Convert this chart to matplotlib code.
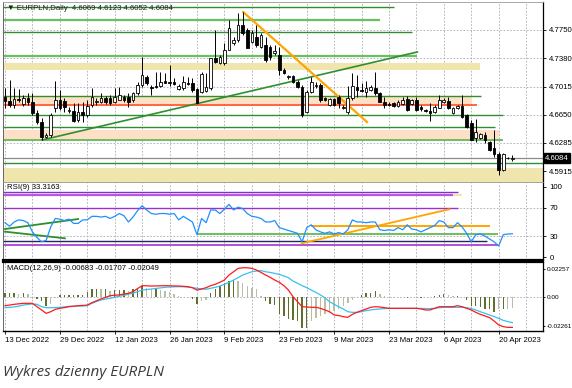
import numpy as np
import matplotlib
matplotlib.use('Agg')
import matplotlib.pyplot as plt
import matplotlib.transforms as mtransforms

# ---------------- DATA ----------------
opens = [4.6879,4.6827,4.6775,4.6853,4.6788,4.6866,4.6814,4.6671,4.6554,4.6359,
         4.6385,4.6736,4.6840,4.6827,4.6697,4.6697,4.6580,4.6684,4.6645,4.6775,
         4.6814,4.6814,4.6866,4.6866,4.6814,4.6840,4.6879,4.6879,4.6840,4.6931,
         4.7035,4.7139,4.7009,4.7022,4.7022,4.7087,4.7074,4.7074,4.6983,4.6996,
         4.7061,4.7061,4.6983,4.6944,4.6957,4.6996,4.7386,4.7321,4.7321,4.7490,
         4.7581,4.7620,4.7815,4.7750,4.7594,4.7659,4.7529,4.7555,4.7529,4.7451,
         4.7425,4.7230,4.7139,4.7152,4.7074,4.7009,4.6684,4.6944,4.7022,4.7035,
         4.6866,4.6775,4.6853,4.6879,4.6736,4.6684,4.6866,4.7009,4.6970,4.6944,
         4.6970,4.6996,4.6931,4.6814,4.6788,4.6801,4.6762,4.6788,4.6853,4.6788,
         4.6840,4.6749,4.6710,4.6697,4.6684,4.6736,4.6814,4.6827,4.6671,4.6736,
         4.6762,4.6645,4.6541,4.6346,4.6346,4.6385,4.6294,4.6216,4.6138,4.5930,
         4.6086,4.6069]
highs = [4.6996,4.7100,4.6996,4.6983,4.6905,4.6931,4.6931,4.6710,4.6606,4.6411,
         4.6671,4.7087,4.6970,4.6866,4.6749,4.6801,4.6801,4.6814,4.6840,4.6996,
         4.6866,4.6931,4.6892,4.6905,4.6996,4.7009,4.6905,4.6931,4.6944,4.7074,
         4.7399,4.7165,4.7035,4.7204,4.7204,4.7191,4.7295,4.7126,4.7048,4.7152,
         4.7139,4.7126,4.6996,4.7204,4.7191,4.7386,4.7750,4.7425,4.7581,4.7880,
         4.7659,4.7971,4.7984,4.7776,4.7750,4.7815,4.7711,4.7659,4.7555,4.7555,
         4.7529,4.7256,4.7165,4.7165,4.7100,4.7035,4.6970,4.7139,4.7074,4.7061,
         4.6879,4.6866,4.6866,4.6905,4.6775,4.7022,4.7191,4.7165,4.7061,4.7087,
         4.7035,4.7204,4.6944,4.6879,4.6814,4.6814,4.6840,4.6879,4.6892,4.6853,
         4.6879,4.6775,4.6723,4.6801,4.6775,4.6905,4.6866,4.6879,4.6749,4.6775,
         4.6905,4.6658,4.6580,4.6593,4.6411,4.6424,4.6307,4.6450,4.6164,4.6151,
         4.6099,4.6123]
lows = [4.6736,4.6749,4.6736,4.6814,4.6762,4.6775,4.6645,4.6528,4.6320,4.6346,
        4.6359,4.6684,4.6710,4.6684,4.6671,4.6554,4.6554,4.6554,4.6619,4.6749,
        4.6775,4.6801,4.6788,4.6775,4.6801,4.6840,4.6814,4.6749,4.6814,4.6905,
        4.7009,4.7035,4.6905,4.6996,4.7009,4.7061,4.7022,4.7035,4.6970,4.6970,
        4.7035,4.6944,4.6801,4.6931,4.6944,4.6970,4.7321,4.7308,4.7295,4.7490,
        4.7555,4.7594,4.7685,4.7516,4.7581,4.7529,4.7516,4.7334,4.7360,4.7425,
        4.7165,4.7178,4.7113,4.7061,4.6996,4.6619,4.6671,4.6931,4.6996,4.6814,
        4.6827,4.6762,4.6762,4.6736,4.6723,4.6658,4.6840,4.6879,4.6944,4.6879,
        4.6957,4.6905,4.6814,4.6736,4.6762,4.6749,4.6749,4.6775,4.6697,4.6775,
        4.6697,4.6697,4.6684,4.6567,4.6671,4.6736,4.6801,4.6723,4.6658,4.6723,
        4.6606,4.6476,4.6320,4.6294,4.6333,4.6281,4.6177,4.6099,4.5865,4.5917,
        4.6073,4.6052]
closes = [4.6827,4.6775,4.6853,4.6840,4.6866,4.6814,4.6671,4.6554,4.6359,4.6385,
          4.6645,4.6840,4.6736,4.6749,4.6710,4.6567,4.6684,4.6645,4.6762,4.6879,
          4.6827,4.6866,4.6814,4.6801,4.6879,4.6905,4.6840,4.6814,4.6931,4.7035,
          4.7165,4.7061,4.6996,4.7009,4.7074,4.7061,4.7061,4.7048,4.7022,4.7074,
          4.7048,4.6970,4.6801,4.7178,4.7009,4.7386,4.7334,4.7399,4.7490,4.7776,
          4.7620,4.7815,4.7711,4.7516,4.7711,4.7555,4.7685,4.7360,4.7399,4.7477,
          4.7230,4.7191,4.7152,4.7074,4.7009,4.6645,4.6944,4.7074,4.7035,4.6840,
          4.6840,4.6853,4.6775,4.6801,4.6749,4.6866,4.7022,4.6970,4.6957,4.6996,
          4.7009,4.6931,4.6814,4.6775,4.6775,4.6762,4.6814,4.6840,4.6710,4.6840,
          4.6710,4.6723,4.6697,4.6671,4.6749,4.6840,4.6840,4.6736,4.6736,4.6762,
          4.6619,4.6489,4.6320,4.6424,4.6398,4.6320,4.6190,4.6138,4.5930,4.6138,
          4.6090,4.6084]

rsi = [49,44,50,53,52,49,36,28,22,24,43,55,54,52,54,48,48,53,53,58,
       58,57,58,55,58,62,59,50,57,66,73,67,62,61,62,62,61,62,53,58,
       54,50,32,55,49,67,67,62,68,75,67,71,69,62,58,57,55,50,50,52,
       42,40,38,36,34,22,42,46,39,36,34,36,33,35,33,39,53,50,50,49,
       50,50,39,38,39,38,42,39,46,40,39,36,39,42,45,52,50,42,42,49,
       43,34,22,32,33,30,26,22,16,32,33,33.3163]

# MACD values in thousandths
macd_red_milli = [-6.7,-6.2,-5.6,-5.2,-4.8,-4.8,-4.8,-7.5,-10.1,-12.8,-11.5,-9.6,-8.8,-8.2,-7.5,-7.1,-6.7,-6.5,-6.2,-4.3,
                  -2.8,-1.3,0.0,1.3,1.6,1.9,2.6,3.2,4.5,7.0,9.3,9.2,9.0,9.1,9.2,9.3,9.2,9.1,9.0,8.8,
                  8.5,7.7,5.8,6.6,7.7,9.3,10.4,12.0,13.8,17.8,20.4,23.1,23.6,23.6,23.1,21.8,19.9,17.8,16.0,13.8,
                  12.0,9.3,5.8,0.5,-3.5,-7.5,-7.7,-8.0,-8.0,-8.8,-10.1,-11.5,-14.1,-14.6,-15.4,-16.0,-13.6,-12.0,-10.6,-9.3,
                  -8.0,-7.5,-7.7,-8.3,-8.8,-8.8,-8.8,-8.8,-8.8,-8.8,-8.8,-9.3,-10.1,-10.1,-8.8,-7.5,-7.5,-7.5,-7.5,-6.7,
                  -7.5,-8.8,-10.1,-12.0,-13.6,-14.9,-16.2,-18.9,-22.1,-23.4,-24.0,-24.0]
macd_cyan_milli = [-8.3,-8.0,-7.7,-7.0,-6.2,-5.7,-5.3,-5.6,-7.5,-8.3,-8.3,-8.2,-8.0,-7.6,-7.2,-7.1,-7.0,-6.9,-6.7,-4.8,
                   -3.4,-2.1,-1.4,-0.8,0.0,0.8,1.6,2.4,3.4,4.5,5.8,6.2,6.6,7.1,7.5,8.0,8.2,8.4,8.5,8.4,
                   8.2,7.7,7.2,6.8,6.4,7.2,8.0,9.0,10.4,12.0,13.8,15.7,17.8,19.1,20.4,21.0,21.3,20.4,19.9,19.1,
                   18.3,17.0,15.7,13.0,11.2,9.3,7.7,5.8,4.0,1.9,-0.3,-3.5,-5.6,-7.5,-9.3,-11.5,-12.0,-12.0,-11.5,-10.6,
                   -10.1,-9.6,-9.3,-9.0,-8.8,-8.8,-8.8,-8.8,-8.8,-8.8,-8.8,-8.9,-9.0,-9.0,-8.8,-8.3,-8.0,-8.0,-8.0,-8.0,
                   -8.0,-8.3,-9.0,-10.1,-11.5,-12.8,-14.1,-15.4,-16.8,-18.4,-19.4,-20.2]
macd_hist_milli = [3.2,3.2,3.2,2.4,3.7,2.4,-1.6,-1.6,-2.9,-6.9,-5.6,-0.3,1.6,1.6,1.6,1.6,1.6,1.6,4.3,6.4,
                   6.9,6.4,6.4,5.1,5.9,5.9,5.9,5.1,6.4,6.4,9.0,7.7,6.4,6.4,5.9,5.1,4.3,2.4,1.1,0.5,
                   0.5,-1.6,-5.6,-2.9,-2.1,3.7,6.4,9.0,11.7,13.0,13.8,13.0,11.7,9.0,7.7,6.4,1.1,-2.9,-5.6,-6.4,
                   -13.3,-14.9,-17.6,-18.1,-18.9,-24.2,-24.2,-18.9,-16.2,-14.9,-13.6,-12.2,-10.9,-9.6,-6.9,-4.3,-2.1,0.0,1.6,3.2,
                   3.7,5.1,2.4,1.1,0.5,-0.3,0.3,0.2,-0.2,0.3,0.2,-0.3,0.5,0.5,1.1,1.6,2.4,1.6,1.1,1.1,
                   0.5,-2.1,-6.9,-6.9,-7.5,-9.0,-9.6,-11.7,-9.6,-9.6,-9.0,-8.2]

date_labels = ["13 Dec 2022", "29 Dec 2022", "12 Jan 2023", "26 Jan 2023", "9 Feb 2023",
               "23 Feb 2023", "9 Mar 2023", "23 Mar 2023", "6 Apr 2023", "20 Apr 2023"]
date_label_bars = [0, 12, 24, 36, 48, 60, 72, 84, 96, 108]
price_ticks = [4.7750, 4.7380, 4.7015, 4.6650, 4.6285, 4.5915]
rsi_ticks = [100, 70, 30, 0]
macd_ticks = [0.02257, 0.0, -0.02261]
macd_tick_labels = ['0.02257', '0.00', '-0.02261']

# horizontal levels on price chart: (price, end bar, colour, width)
price_levels = [
    (4.8049, 85.1, '#2f8f2f', 1.0),
    (4.7880, 82.0, '#6cbf5f', 1.6),
    (4.7724, 89.0, '#2f8f2f', 1.0),
    (4.7412, 90.2, '#6cbf5f', 1.6),
    (4.6892, 104.2, '#2f8f2f', 1.0),
    (4.6775, 103.3, '#ff4b1f', 1.2),
    (4.6645, 109.0, '#2f8f2f', 1.0),
    (4.6489, 107.2, '#2f8f2f', 1.0),
    (4.6320, 109.0, '#6cbf5f', 1.4),
    (4.6021, 118.0, '#2f8f2f', 1.0),
]
price_zones = [  # (low, high, end bar, colour)
    (4.7225, 4.7318, 104.0, '#efe5ad'),
    (4.6786, 4.6894, 102.2, '#fde0c6'),
    (4.6330, 4.6450, 108.1, '#fde0c6'),
    (4.5760, 4.5958, 118.0, '#efe5ad'),
]
price_trend_x = [[8.1, 90.2], [52.1, 79.2]]
price_trend_y = [[4.6320, 4.7464], [4.7984, 4.6554]]
price_trend_c = ['#2f8f2f', '#ffa500']

rsi_levels = [  # (value, start bar, end bar, colour, width)
    (88, -1, 100.0, '#efe5ad', 1.6),
    (93, -1, 99.1, '#8a2be2', 1.0),
    (88, -1, 98.0, '#b45cd6', 1.6),
    (70, -1, 99.1, '#9932cc', 1.0),
    (23, -1, 105.4, '#26265e', 1.0),
    (17, -1, 107.9, '#b04fd8', 1.4),
    (32.6, 42.0, 107.9, '#6cbf5f', 1.4),
    (44.8, 66.9, 106.1, '#ffa500', 1.4),
]
rsi_trend_x = [[64.9, 97.2], [0, 16], [0, 13.1]]
rsi_trend_y = [[19.8, 68.0], [40.1, 54.2], [36.3, 26.9]]
rsi_trend_c = ['#ffa500', '#2f8f2f', '#2f8f2f']

# ---------------- FIGURE ----------------
W, H = 572, 388
fig = plt.figure(figsize=(W / 100, H / 100), dpi=100)
fig.patch.set_facecolor('white')
FONT = ['Liberation Sans', 'DejaVu Sans']
plt.rcParams['font.family'] = FONT


def axrect(x0, y0, x1, y1):
    return [x0 / W, 1 - y1 / H, (x1 - x0) / W, (y1 - y0) / H]


ax = fig.add_axes(axrect(3, 2, 543, 182))
ax_rsi = fig.add_axes(axrect(3, 183, 543, 260))
ax_macd = fig.add_axes(axrect(3, 262, 543, 331))

n = len(closes)
xs = np.arange(n)
XL = (-0.44, 117.7)
grid_kw = dict(color='#a9a9b8', lw=0.6, ls=(0, (2, 2)), zorder=0)

for a in (ax, ax_rsi, ax_macd):
    a.set_xlim(*XL)
    a.set_facecolor('white')
    a.yaxis.tick_right()
    a.tick_params(axis='y', length=2.5, width=0.6, pad=2, labelsize=5.6, colors='black')
    for g in range(0, 118, 6):
        a.axvline(g, **grid_kw)
    a.spines['left'].set_color('#666666')
    a.spines['left'].set_linewidth(0.7)
    a.spines['right'].set_color('black')
    a.spines['right'].set_linewidth(0.9)

# ---- price panel ----
ax.set_ylim(4.5774, 4.8114)
ax.set_xticks([])
ax.set_yticks(price_ticks)
ax.set_yticklabels([f"{t:.4f}" for t in price_ticks])
for t in price_ticks:
    ax.axhline(t, **grid_kw)
ax.spines['top'].set_color('#999999')
ax.spines['top'].set_linewidth(0.6)
ax.spines['bottom'].set_color('#999999')
ax.spines['bottom'].set_linewidth(0.6)

for lo, hi, xe, c in price_zones:
    ax.fill_between([XL[0], xe], lo, hi, color=c, lw=0, zorder=1)
for p, xe, c, lw in price_levels:
    ax.plot([XL[0], xe], [p, p], color=c, lw=lw, zorder=2, solid_capstyle='butt')
for tx, ty, c in zip(price_trend_x, price_trend_y, price_trend_c):
    ax.plot(tx, ty, color=c, lw=1.2 if c != '#ffa500' else 1.6, zorder=2)

# current price line
ax.axhline(closes[-1], color='#8a8a8a', lw=0.9, zorder=2)

o = np.array(opens); h = np.array(highs); l = np.array(lows); c_ = np.array(closes)
ax.vlines(xs, l, h, color='black', lw=0.7, zorder=3)
bull = c_ >= o
body_lo = np.minimum(o, c_)
body_h = np.maximum(np.abs(c_ - o), 0.0004)
ax.bar(xs, body_h, bottom=body_lo, width=0.58,
       color=np.where(bull, 'white', 'black'), edgecolor='black', linewidth=0.6, zorder=4)

blend = mtransforms.blended_transform_factory(ax.transAxes, ax.transData)
ax.text(1.004, closes[-1], f"{closes[-1]:.4f}", transform=blend, fontsize=5.6, color='white',
        va='center', ha='left', zorder=10,
        bbox=dict(boxstyle='square,pad=0.2', fc='black', ec='black'))

# ---- RSI panel ----
ax_rsi.set_ylim(-3.8, 105.2)
ax_rsi.set_xticks([])
ax_rsi.set_yticks(rsi_ticks)
ax_rsi.set_yticklabels([str(t) for t in rsi_ticks])
for t in (70, 30):
    ax_rsi.axhline(t, **grid_kw)
ax_rsi.spines['top'].set_visible(False)
ax_rsi.spines['bottom'].set_color('black')
ax_rsi.spines['bottom'].set_linewidth(1.6)
for v, xs0, xe, c, lw in rsi_levels:
    ax_rsi.plot([max(xs0, XL[0]), xe], [v, v], color=c, lw=lw, zorder=2, solid_capstyle='butt')
for tx, ty, c in zip(rsi_trend_x, rsi_trend_y, rsi_trend_c):
    ax_rsi.plot(tx, ty, color=c, lw=1.3, zorder=2)
ax_rsi.plot(xs, rsi, color='#1e90ff', lw=0.9, zorder=3)

# ---- MACD panel ----
ax_macd.set_ylim(-0.0269, 0.0282)
ax_macd.set_yticks(macd_ticks)
ax_macd.set_yticklabels(macd_tick_labels)
ax_macd.tick_params(axis='y', length=1.5, pad=1, labelsize=4.6)
ax_macd.axhline(0, **grid_kw)
ax_macd.spines['top'].set_color('black')
ax_macd.spines['top'].set_linewidth(1.6)
ax_macd.spines['bottom'].set_color('black')
ax_macd.spines['bottom'].set_linewidth(1.0)
hist = np.array(macd_hist_milli) * 1e-3
prev = np.concatenate([[0], hist[:-1]])
grow = np.abs(hist) >= np.abs(prev)
ax_macd.bar(xs, hist, width=0.3, color=np.where(grow, '#5f6f2f', '#b9bfa3'), lw=0, zorder=2)
ax_macd.plot(xs, np.array(macd_cyan_milli) * 1e-3, color='#38c0f0', lw=0.9, zorder=3)
ax_macd.plot(xs, np.array(macd_red_milli) * 1e-3, color='#ff1a1a', lw=0.9, zorder=4)
ax_macd.set_xticks(date_label_bars)
ax_macd.set_xticklabels(date_labels)
ax_macd.tick_params(axis='x', length=2, width=0.6, pad=2, labelsize=5.6)
for lbl in ax_macd.get_xticklabels():
    lbl.set_ha('left')

# ---- labels ----
fig.text(7 / W, 1 - 8.5 / H,
         f"\u25bc EURPLN,Daily  {opens[-1]:.4f} {highs[-1]:.4f} {lows[-1]:.4f} {closes[-1]:.4f}",
         fontsize=5.6, va='center', ha='left', color='#222222', family=FONT)
fig.text(7 / W, 1 - 187.5 / H, f"RSI(9) {rsi[-1]:.4f}", fontsize=5.6, va='center', ha='left')
fig.text(7 / W, 1 - 268.5 / H,
         "MACD(12,26,9) -0.00683 -0.01707 -0.02049", fontsize=5.6, va='center', ha='left')
fig.text(3 / W, 1 - 373 / H, "Wykres dzienny EURPLN", fontsize=11, style='italic',
         color='#3a3a3a', va='center', ha='left', family=['Open Sans', 'DejaVu Sans'])

fig.savefig('out.png', dpi=100, facecolor='white')
